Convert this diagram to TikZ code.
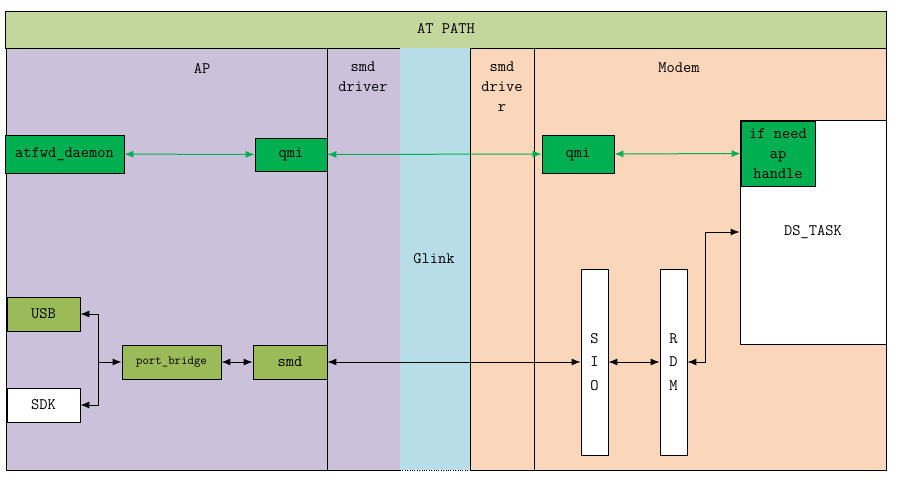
\documentclass[tikz,border=0pt]{standalone}
\usetikzlibrary{arrows.meta}
\definecolor{pathgreen}{HTML}{C3D69B}
\definecolor{apviolet}{HTML}{CCC1DA}
\definecolor{glinkblue}{HTML}{B7DDE8}
\definecolor{modempeach}{HTML}{FAD6BA}
\definecolor{qmigreen}{HTML}{00B050}
\definecolor{olivegreen}{HTML}{9BBB59}
\tikzset{
	box/.style={draw, line width=0.8pt, inner sep=0pt, align=center},
	qbox/.style={box, fill=qmigreen},
	obox/.style={box, fill=olivegreen},
	wbox/.style={box, fill=white},
	glink/.style={qmigreen, line width=1pt, <->},
	blink/.style={line width=1pt, <->}
}
\begin{document}
\begin{tikzpicture}[x=1pt,y=-1pt,>={Latex[length=9pt,width=7pt]},font=\ttfamily\fontsize{16}{20}\selectfont]
		\useasboundingbox (0,0) rectangle (897,479);
		% regions
		\draw[fill=pathgreen] (5,11) rectangle (886,48);
		\draw[fill=apviolet] (6,48) rectangle (327,470);
		\draw[fill=apviolet] (327,48) rectangle (400,470);
		\fill[glinkblue] (400,48) rectangle (470,470);
		\draw[dotted] (400,470) -- (470,470);
		\draw[fill=modempeach] (470,48) rectangle (534,470);
		\draw[fill=modempeach] (534,48) rectangle (886,470);
		\node (atpath) at (446,29) {AT PATH};
		\node (aplabel) at (202,68) {AP};
		\node[align=center,anchor=north] (smdap) at (363,58) {smd\\driver};
		\node (glinklabel) at (434,259) {Glink};
		\node[align=center,anchor=north] (smdmd) at (502,58) {smd\\drive\\r};
		\node (modemlabel) at (679,68) {Modem};
		% boxes
		\node[qbox, minimum width=119pt, minimum height=38pt] (atfwd) at (64.5,154) {atfwd\_daemon};
		\node[qbox, minimum width=72pt, minimum height=33pt] (qmiap) at (291,154.5) {qmi};
		\node[qbox, minimum width=72pt, minimum height=38pt] (qmimd) at (578,154) {qmi};
		\node[wbox, minimum width=146pt, minimum height=224pt] (ds) at (813,232) {DS\_TASK};
		\node[qbox, minimum width=74pt, minimum height=65pt] (need) at (778,153.5) {if need\\ap\\handle};
		\node[obox, minimum width=73pt, minimum height=34pt] (usb) at (43.5,314) {USB};
		\node[wbox, minimum width=73pt, minimum height=34pt] (sdk) at (43.5,405) {SDK};
		\node[obox, minimum width=99pt, minimum height=34pt, font=\ttfamily\fontsize{12.5}{15}\selectfont] (pb) at (171.5,362) {port\_bridge};
		\node[obox, minimum width=74pt, minimum height=34pt] (smd) at (290,362) {smd};
		\node[wbox, minimum width=27pt, minimum height=186pt, font=\ttfamily\fontsize{16}{23.5}\selectfont] (sio) at (594.5,362) {S\\I\\O};
		\node[wbox, minimum width=27pt, minimum height=186pt, font=\ttfamily\fontsize{16}{23.5}\selectfont] (rdm) at (673.5,362) {R\\D\\M};
		% connectors
		\draw[glink] (atfwd) -- (qmiap);
		\draw[glink] (qmiap) -- (qmimd);
		\draw[glink] (qmimd) -- (need);
		\coordinate (split) at (98,362);
		\draw[line width=1pt,->] (split) |- (usb);
		\draw[line width=1pt,->] (split) |- (sdk);
		\draw[line width=1pt,->] (split) -- (pb);
		\draw[blink] (pb) -- (smd);
		\draw[blink] (smd) -- (sio);
		\draw[blink] (sio) -- (rdm);
		\draw[blink] (rdm.east) -- ++(18,0) |- (ds.west);
	\end{tikzpicture}
\end{document}
